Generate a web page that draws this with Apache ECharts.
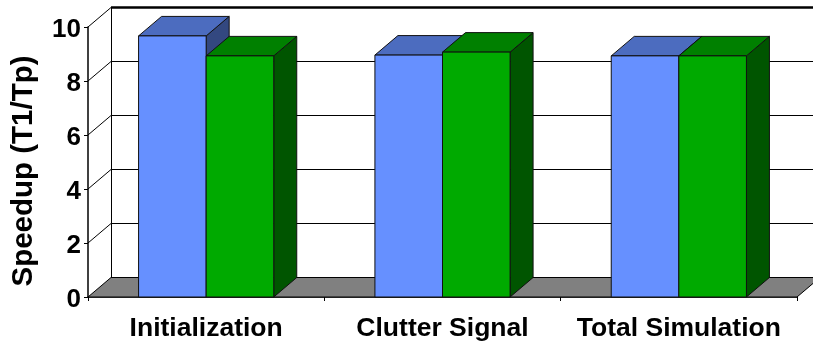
<!DOCTYPE html>
<html>
<head>
<meta charset="utf-8">
<script src="https://cdn.jsdelivr.net/npm/echarts@6/dist/echarts.min.js"></script>
<style>
  html, body { margin: 0; padding: 0; background: #fff; }
  #chart { width: 813px; height: 342px; }
</style>
</head>
<body>
<div id="chart"></div>
<script>
const categories = ['Initialization', 'Clutter Signal', 'Total Simulation'];
const blueValues = [9.67, 8.96, 8.93];
const greenValues = [8.93, 9.07, 8.93];
const yTicks = [0, 2, 4, 6, 8, 10];

const FONT = '"Liberation Sans", Arial, sans-serif';
const DEPTH_X = 23;
const DEPTH_Y = 19.5;
const BAR_FRACTION = 0.286;

const myChart = echarts.init(document.getElementById('chart'));

// back wall and floor, shifted back from the front plane by the depth
function renderWall(params, api) {
    const value = api.value(0);
    const cs = params.coordSys;
    const p = api.coord([0, value]);
    const left = cs.x;
    const right = cs.x + cs.width;
    const y = p[1];
    const children = [];

    if (value === 0) {
        children.push({
            type: 'polygon',
            shape: { points: [[left, y], [left + DEPTH_X, y - DEPTH_Y], [right + DEPTH_X, y - DEPTH_Y], [right, y]] },
            style: { fill: '#808080', stroke: '#000', lineWidth: 1 }
        });
        children.push({
            type: 'line',
            shape: { x1: left + DEPTH_X + 0.5, y1: y - DEPTH_Y, x2: left + DEPTH_X + 0.5, y2: cs.y - DEPTH_Y },
            style: { stroke: '#000', lineWidth: 1 }
        });
    } else {
        const top = value === yTicks[yTicks.length - 1];
        children.push({
            type: 'polyline',
            shape: { points: [[left, y], [left + DEPTH_X, y - DEPTH_Y], [right + DEPTH_X, y - DEPTH_Y]] },
            style: { fill: null, stroke: '#000', lineWidth: 1 }
        });
        if (top) {
            children.push({
                type: 'line',
                shape: { x1: left + DEPTH_X, y1: y - DEPTH_Y, x2: right + DEPTH_X, y2: y - DEPTH_Y },
                style: { stroke: '#000', lineWidth: 2.5 }
            });
        }
    }
    return { type: 'group', children: children };
}

function bar3d(side, front, topColor, sideColor) {
    return function (params, api) {
        const base = api.coord([api.value(0), 0]);
        const head = api.coord([api.value(0), api.value(1)]);
        const w = api.size([1, 0])[0] * BAR_FRACTION;
        const x0 = side < 0 ? base[0] - w : base[0];
        const x1 = x0 + w;
        const yb = base[1];
        const yt = head[1];
        const edge = { stroke: '#111', lineWidth: 1, lineJoin: 'round' };
        return {
            type: 'group',
            children: [
                {
                    type: 'polygon',
                    shape: { points: [[x1, yb], [x1 + DEPTH_X, yb - DEPTH_Y], [x1 + DEPTH_X, yt - DEPTH_Y], [x1, yt]] },
                    style: Object.assign({ fill: sideColor }, edge)
                },
                {
                    type: 'polygon',
                    shape: { points: [[x0, yt], [x0 + DEPTH_X, yt - DEPTH_Y], [x1 + DEPTH_X, yt - DEPTH_Y], [x1, yt]] },
                    style: Object.assign({ fill: topColor }, edge)
                },
                {
                    type: 'rect',
                    shape: { x: x0, y: yt, width: w, height: yb - yt },
                    style: Object.assign({ fill: front }, edge)
                }
            ]
        };
    };
}

const option = {
    backgroundColor: '#fff',
    animation: false,
    graphic: {
        type: 'text',
        rotation: Math.PI / 2,
        x: 24,
        y: 171,
        style: {
            text: 'Speedup (T1/Tp)',
            font: 'bold 29.5px ' + FONT,
            fill: '#000',
            textAlign: 'center',
            textVerticalAlign: 'middle'
        }
    },
    grid: { left: 88, right: 16, top: 27, bottom: 45, outerBoundsMode: 'none' },
    xAxis: {
        type: 'category',
        data: categories,
        axisLine: { lineStyle: { color: '#000', width: 1.5 } },
        axisTick: { show: true, length: 4, lineStyle: { color: '#000' } },
        axisLabel: {
            interval: 0,
            margin: 18,
            color: '#000',
            fontFamily: FONT,
            fontWeight: 'bold',
            fontSize: 26.5
        }
    },
    yAxis: {
        type: 'value',
        min: 0,
        max: 10,
        interval: 2,
        splitLine: { show: false },
        axisLine: { show: true, lineStyle: { color: '#000', width: 1.5 } },
        axisTick: { show: true, length: 4, lineStyle: { color: '#000' } },
        axisLabel: {
            margin: 7,
            formatter: '{n|{value}}',
            rich: {
                n: {
                    padding: [6, 0, 0, 0],
                    color: '#000',
                    fontFamily: FONT,
                    fontWeight: 'bold',
                    fontSize: 26
                }
            }
        }
    },
    series: [
        {
            type: 'custom',
            renderItem: renderWall,
            data: yTicks.map(v => [v]),
            encode: { y: 0 },
            silent: true,
            clip: false,
            z: 1
        },
        {
            name: 'Series 1',
            type: 'custom',
            renderItem: bar3d(-1, '#6690FF', '#4C6CBF', '#334880'),
            data: blueValues.map((v, i) => [i, v]),
            encode: { x: 0, y: 1 },
            clip: false,
            z: 2
        },
        {
            name: 'Series 2',
            type: 'custom',
            renderItem: bar3d(1, '#00AA00', '#008000', '#005500'),
            data: greenValues.map((v, i) => [i, v]),
            encode: { x: 0, y: 1 },
            clip: false,
            z: 3
        }
    ]
};

myChart.setOption(option);
</script>
</body>
</html>
